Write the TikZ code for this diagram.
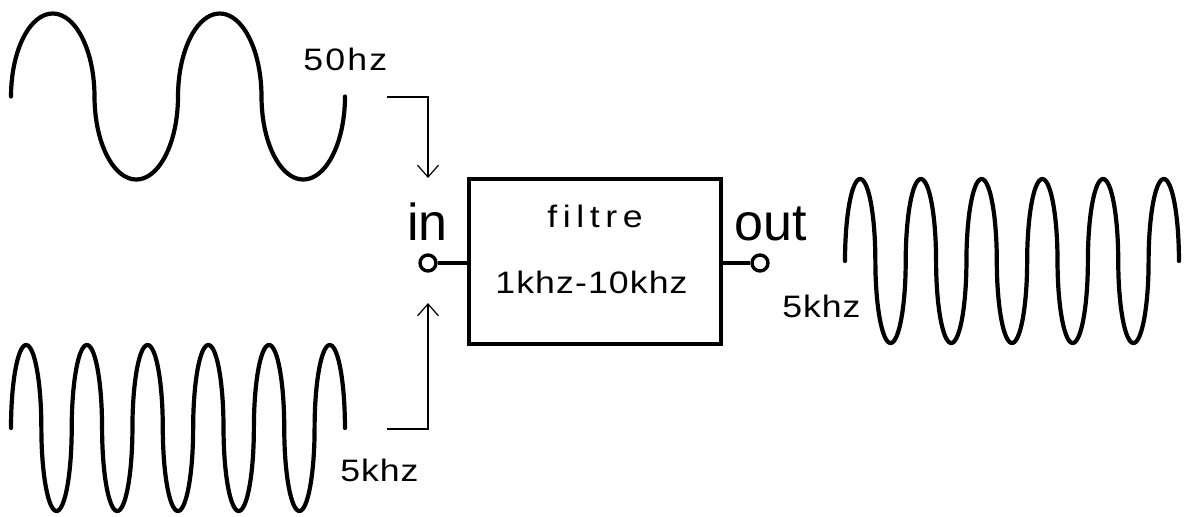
\documentclass[tikz,border=0pt]{standalone}
\usepackage{fontspec}
\setmainfont{Liberation Sans}
\newfontfamily\widefont[FakeStretch=1.15]{Liberation Sans}
\usetikzlibrary{arrows.meta}
\begin{document}
\begin{tikzpicture}[x=0.5pt,y=-0.5pt,
  wave/.style={line width=2.1pt, line cap=round, line join=round},
  lead/.style={line width=1.7pt},
  term/.style={circle, draw, line width=1.7pt, minimum size=8pt, inner sep=0pt},
  filterbox/.style={draw, line width=1.7pt, minimum width=126pt, minimum height=82.5pt, inner sep=0pt},
  lbl/.style={inner sep=0pt, anchor=base west, font=\widefont\fontsize{15.5}{18}\selectfont},
  port/.style={inner sep=0pt, anchor=base west, font=\fontsize{26}{30}\selectfont},
  feed/.style={line width=0.6pt, -{Straight Barb[length=6pt,width=10.5pt]}}
]
\useasboundingbox (0,0) rectangle (1184,516);

% waves: alternating half-ellipses
\draw[wave] plot[domain=0:720, samples=161]
  ({11+41.75*(2*floor(\x/180)+1-cos(mod(\x,180)))},{96.5-83*sin(\x)});
\draw[wave] plot[domain=0:1980, samples=441]
  ({11+15.18*(2*floor(\x/180)+1-cos(mod(\x,180)))},{428-83*sin(\x)});
\draw[wave] plot[domain=0:1980, samples=441]
  ({845+15.18*(2*floor(\x/180)+1-cos(mod(\x,180)))},{261-82*sin(\x)});

% filter and terminals
\node[filterbox] (filt) at (595,261.5) {};
\node[term] (inT) at (428,263) {};
\node[term] (outT) at (760,263) {};
\draw[lead] (inT) -- (filt.west |- inT);
\draw[lead] (filt.east |- outT) -- (outT);

% texts
\node[lbl] (f50) at (303,70) {5\kern1.1pt0\kern1.1pt h\kern1.1pt z};
\node[lbl] (f5a) at (340,481) {5\kern0.45pt k\kern0.45pt h\kern0.45pt z};
\node[lbl] (f5b) at (782,317) {5\kern0.45pt k\kern0.45pt h\kern0.45pt z};
\node[lbl] (ftitle) at (547,227) {f\kern2.8pt i\kern2.8pt l\kern2.8pt t\kern2.8pt r\kern2.8pt e};
\node[lbl] (frange) at (495,293) {1\kern0.55pt k\kern0.55pt h\kern0.55pt z\kern0.55pt -\kern0.55pt 1\kern0.55pt 0\kern0.55pt k\kern0.55pt h\kern0.55pt z};
\node[port] (inL) at (407,240) {in};
\node[port] (outL) at (734,240) {out};

% feed arrows
\coordinate (a1) at (387,97);
\coordinate (a1tip) at (428,178);
\draw[feed] (a1) -| (a1tip);
\coordinate (a2) at (387,429);
\coordinate (a2tip) at (428,303);
\draw[feed] (a2) -| (a2tip);
\end{tikzpicture}
\end{document}
